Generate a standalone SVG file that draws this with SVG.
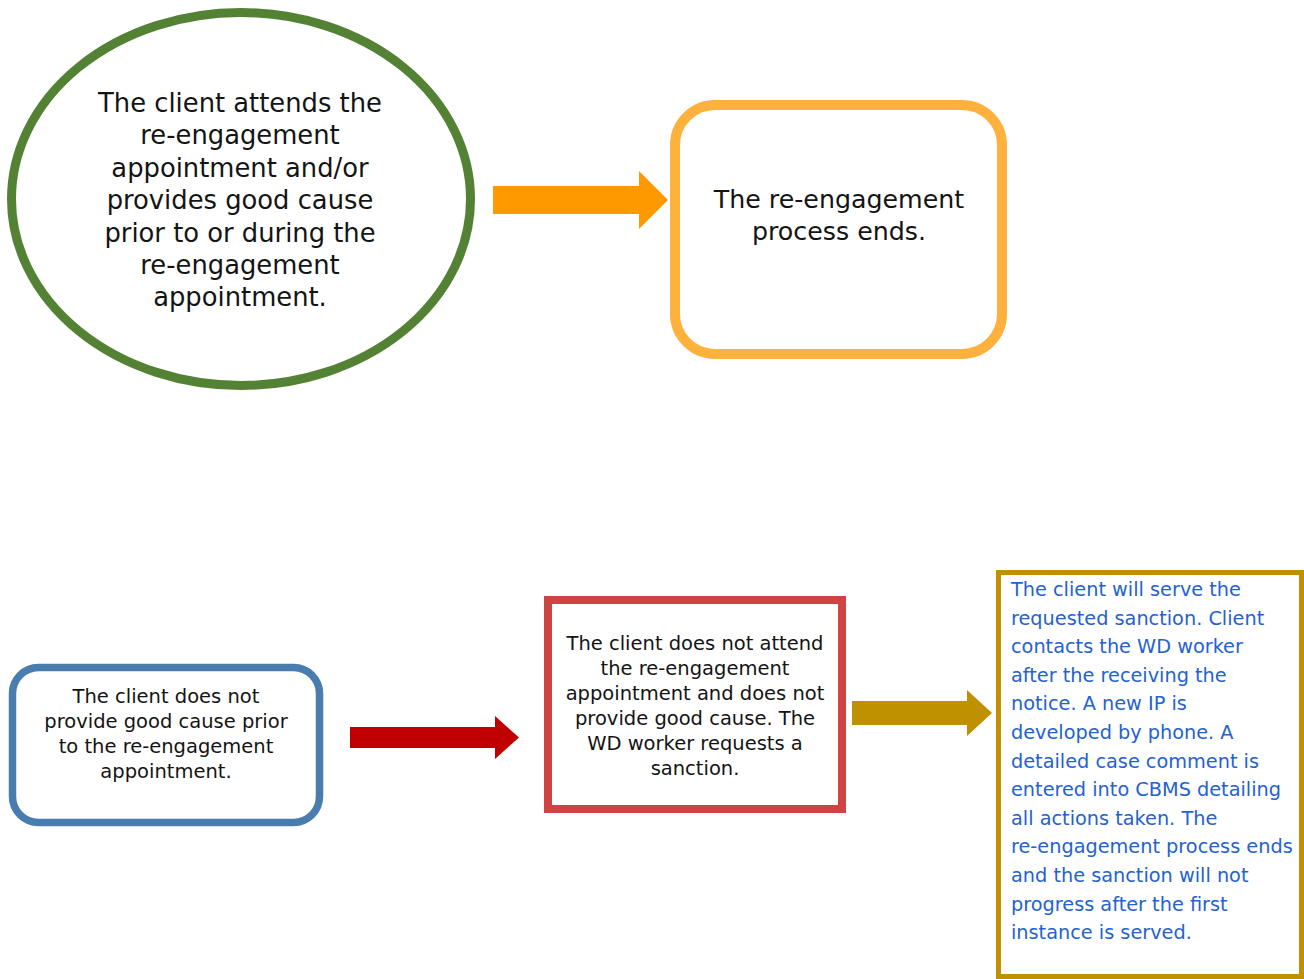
<svg xmlns="http://www.w3.org/2000/svg" width="1304" height="979" viewBox="0 0 1304 979">
<style>
.t{font-family:"DejaVu Sans","Verdana",sans-serif;fill:#141414;text-anchor:middle}
.big{font-size:25.8px}
.mid{font-size:25.3px}
.sm{font-size:19.5px}
.blue{font-family:"DejaVu Sans","Verdana",sans-serif;font-size:19.3px;fill:#2462D0}
.box{fill:#ffffff}
</style>
<rect width="1304" height="979" fill="#ffffff"/>
<g id="node-attends">
<ellipse class="box" cx="241" cy="199" rx="229.5" ry="186.5" stroke="#548235" stroke-width="9"/>
<text class="t big"><tspan x="240" y="112">The client attends the</tspan><tspan x="240" y="144.4">re-engagement</tspan><tspan x="240" y="176.8">appointment and/or</tspan><tspan x="240" y="209.2">provides good cause</tspan><tspan x="240" y="241.6">prior to or during the</tspan><tspan x="240" y="274">re-engagement</tspan><tspan x="240" y="306.4">appointment.</tspan></text>
</g>
<g id="node-ends">
<rect class="box" x="675" y="105" width="327" height="249" rx="40" stroke="#FFB13D" stroke-width="10"/>
<text class="t mid"><tspan x="839" y="207.5">The re-engagement</tspan><tspan x="839" y="240">process ends.</tspan></text>
</g>
<g id="node-no-cause">
<rect class="box" x="12.5" y="667.5" width="307" height="155" rx="26" stroke="#4A7DAF" stroke-width="7.5"/>
<text class="t sm"><tspan x="166" y="703">The client does not</tspan><tspan x="166" y="728">provide good cause prior</tspan><tspan x="166" y="753">to the re-engagement</tspan><tspan x="166" y="778">appointment.</tspan></text>
</g>
<g id="node-sanction">
<rect class="box" x="548" y="600" width="294" height="209" stroke="#D04343" stroke-width="8"/>
<text class="t sm"><tspan x="695" y="650">The client does not attend</tspan><tspan x="695" y="675">the re-engagement</tspan><tspan x="695" y="700">appointment and does not</tspan><tspan x="695" y="725">provide good cause. The</tspan><tspan x="695" y="750">WD worker requests a</tspan><tspan x="695" y="775">sanction.</tspan></text>
</g>
<g id="node-serve">
<rect class="box" x="998.5" y="572.5" width="303" height="404" stroke="#BF9000" stroke-width="5"/>
<text class="blue"><tspan x="1011" y="596">The client will serve the</tspan><tspan x="1011" y="624.6">requested sanction. Client</tspan><tspan x="1011" y="653.2">contacts the WD worker</tspan><tspan x="1011" y="681.8">after the receiving the</tspan><tspan x="1011" y="710.4">notice. A new IP is</tspan><tspan x="1011" y="739">developed by phone. A</tspan><tspan x="1011" y="767.6">detailed case comment is</tspan><tspan x="1011" y="796.2">entered into CBMS detailing</tspan><tspan x="1011" y="824.8">all actions taken. The</tspan><tspan x="1011" y="853.4">re-engagement process ends</tspan><tspan x="1011" y="882">and the sanction will not</tspan><tspan x="1011" y="910.6">progress after the first</tspan><tspan x="1011" y="939.2">instance is served.</tspan></text>
</g>
<g id="connectors">
<polygon points="493,186 639,186 639,171 668,200 639,229 639,214 493,214" fill="#FF9900"/>
<polygon points="350,727 495,727 495,716 519,737.5 495,759 495,748 350,748" fill="#C00000"/>
<polygon points="852,701 967,701 967,690 992,713 967,736 967,725 852,725" fill="#BF9000"/>
</g>
</svg>
